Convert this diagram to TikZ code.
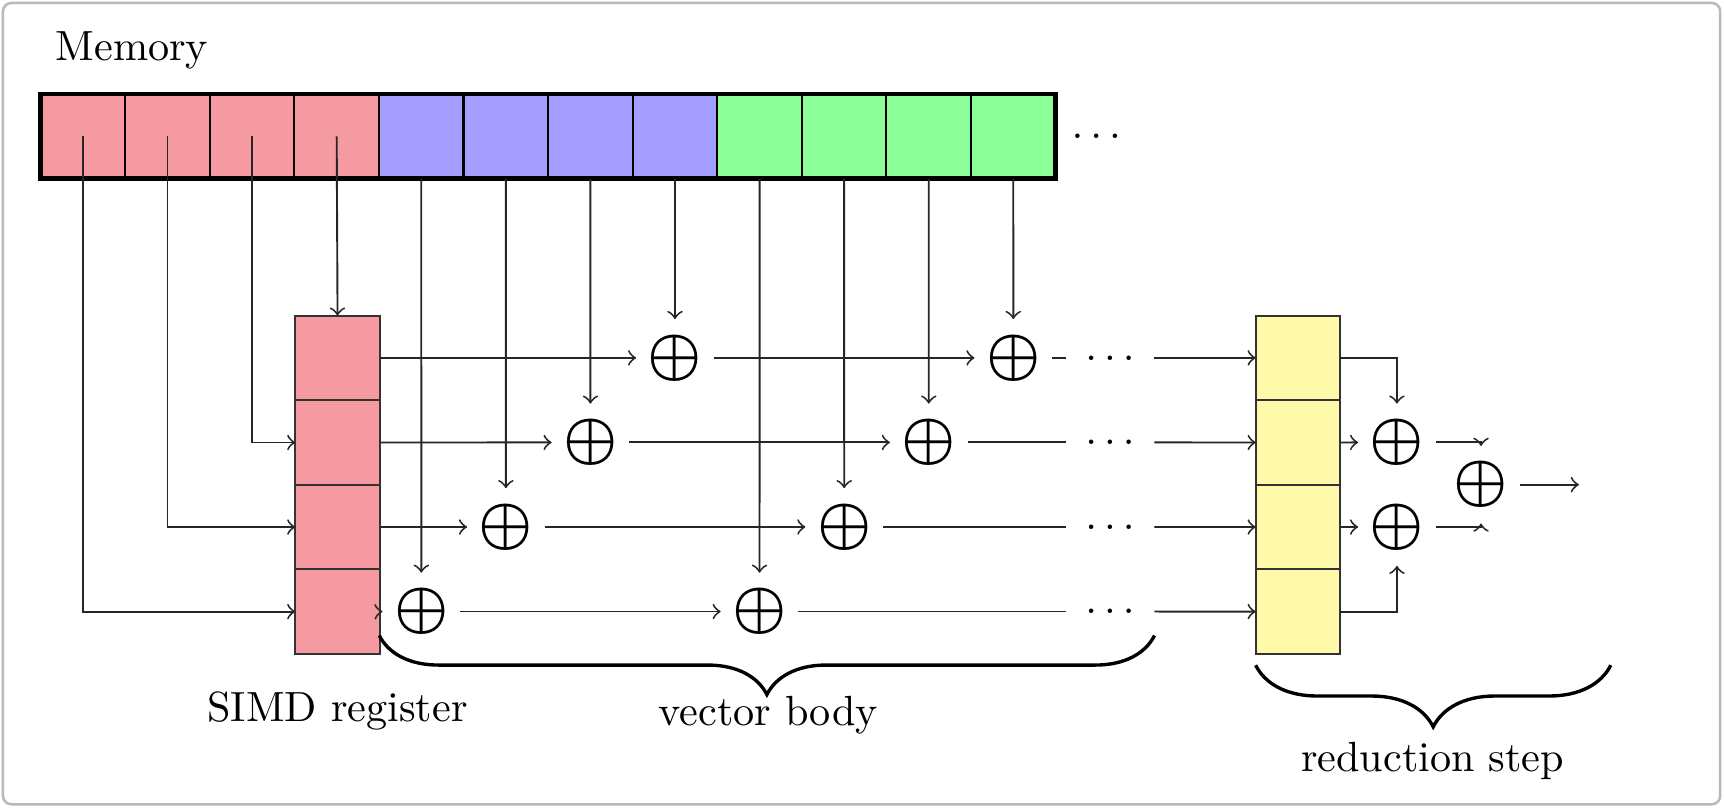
\documentclass[tikz,border=0pt]{standalone}
\usetikzlibrary{decorations.pathreplacing}
\definecolor{memred}{RGB}{245,154,160}
\definecolor{memblue}{RGB}{166,158,255}
\definecolor{memgreen}{RGB}{140,255,152}
\definecolor{regyellow}{RGB}{255,249,170}
\begin{document}
\begin{tikzpicture}[x=0.2605pt,y=-0.2605pt,
  cellbox/.style={draw=black, line width=0.5pt, minimum width=20.04pt, minimum height=20.04pt, inner sep=0pt, outer sep=0pt},
  regbox/.style={cellbox, draw=black!80},
  plusnode/.style={circle, inner sep=0pt, minimum size=18pt, font=\Large\boldmath},
  dotsnode/.style={inner sep=0pt, minimum width=20.6pt, minimum height=4pt},
  label/.style={anchor=base, inner sep=0pt},
  conn/.style={line width=0.45pt, black!85},
  arr/.style={conn, ->},
  bracedec/.style={decorate, line width=0.8pt}
]
\useasboundingbox (0,0) rectangle (1568,735);
\draw[gray!55, line width=0.6pt, rounded corners=2pt] (2.7,2.7) rectangle (1564.5,731.5);

% Memory label
\node[label] (memlabel) at (120,55) {Memory};

% Memory strip
\foreach \i/\c in {1/memred,2/memred,3/memred,4/memred,5/memblue,6/memblue,7/memblue,8/memblue,9/memgreen,10/memgreen,11/memgreen,12/memgreen}{
  \node[cellbox, fill=\c] (m\i) at ({75.46+76.92*(\i-1)},124) {};
}
\draw[line width=1.1pt] (m1.north west) rectangle (m12.south east);
\node[dotsnode] (mdots) at (997,124) {$\ldots$};

% SIMD register and reduction register
\foreach \k in {1,...,4}{
  \node[regbox, fill=memred] (r\k) at (307,{325.5+76.92*(\k-1)}) {};
  \node[regbox, fill=regyellow] (y\k) at (1180.5,{325.5+76.92*(\k-1)}) {};
}

% plus nodes
\node[plusnode] (a1) at (613.9,325.5) {$\oplus$};
\node[plusnode] (a2) at (537.0,402.4) {$\oplus$};
\node[plusnode] (a3) at (460.1,479.3) {$\oplus$};
\node[plusnode] (a4) at (383.2,556.2) {$\oplus$};
\node[plusnode] (b1) at (921.6,325.5) {$\oplus$};
\node[plusnode] (b2) at (844.7,402.4) {$\oplus$};
\node[plusnode] (b3) at (767.8,479.3) {$\oplus$};
\node[plusnode] (b4) at (690.8,556.2) {$\oplus$};
\node[dotsnode] (d1) at (1009.5,325.5) {$\ldots$};
\node[dotsnode] (d2) at (1009.5,402.4) {$\ldots$};
\node[dotsnode] (d3) at (1009.5,479.3) {$\ldots$};
\node[dotsnode] (d4) at (1009.5,556.2) {$\ldots$};
\node[plusnode] (c1) at (1270.5,402.4) {$\oplus$};
\node[plusnode] (c2) at (1270.5,479.3) {$\oplus$};
\node[plusnode] (f) at (1347,440.85) {$\oplus$};
\coordinate (out) at (1436,440.85);

% loads from memory
\draw[arr] (m4.center) -- (r1.north);
\draw[arr] (m3.center) |- (r2.west);
\draw[arr] (m2.center) |- (r3.west);
\draw[arr] (m1.center) |- (r4.west);
\draw[arr] (m5.south) -- (a4.north);
\draw[arr] (m6.south) -- (a3.north);
\draw[arr] (m7.south) -- (a2.north);
\draw[arr] (m8.south) -- (a1.north);
\draw[arr] (m9.south) -- (b4.north);
\draw[arr] (m10.south) -- (b3.north);
\draw[arr] (m11.south) -- (b2.north);
\draw[arr] (m12.south) -- (b1.north);

% vector body rows
\foreach \k in {1,...,4}{
  \draw[arr] (r\k.east) -- (a\k.west);
  \draw[arr] (a\k.east) -- (b\k.west);
  \draw[conn] (b\k.east) -- (d\k.west);
  \draw[arr] (d\k.east) -- (y\k.west);
}

% reduction
\draw[arr] (y1.east) -| (c1.north);
\draw[arr] (y2.east) -- (c1.west);
\draw[arr] (y3.east) -- (c2.west);
\draw[arr] (y4.east) -| (c2.south);
\draw[arr] (c1.east) -| (f.north);
\draw[arr] (c2.east) -| (f.south);
\draw[arr] (f.east) -- (out);

% braces and labels
\coordinate (vbl) at (345,578);
\coordinate (vbr) at (1050,578);
\coordinate (rbl) at (1142,605);
\coordinate (rbr) at (1465,605);
\draw[bracedec, decoration={brace, amplitude=14pt, mirror}] (vbl) -- (vbr);
\draw[bracedec, decoration={brace, amplitude=14.6pt, mirror}] (rbl) -- (rbr);
\node[label] (simdlabel) at (307,656) {SIMD register};
\node[label] (vblabel) at (698.6,660) {vector body};
\node[label] (rslabel) at (1303,702) {reduction step};
\end{tikzpicture}
\end{document}
